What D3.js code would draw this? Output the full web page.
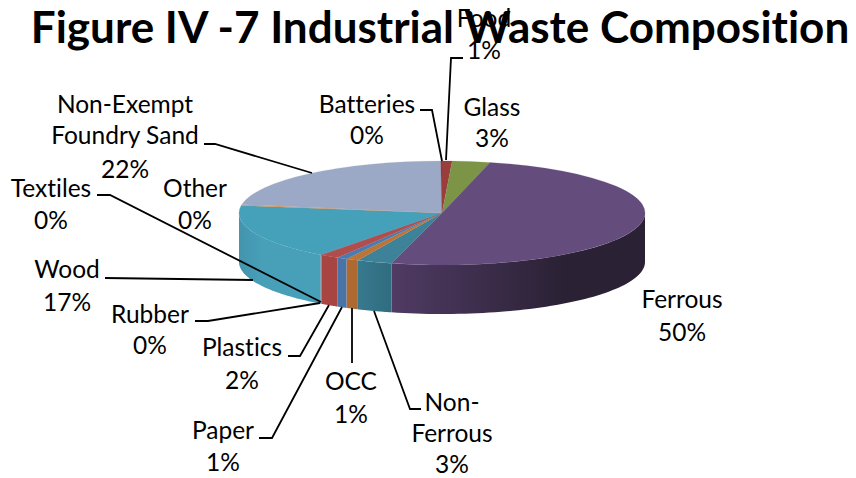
<!DOCTYPE html>
<html>
<head>
<meta charset="utf-8">
<script src="https://cdn.jsdelivr.net/npm/d3@7/dist/d3.min.js"></script>
<style>html,body{margin:0;padding:0;background:#fff}svg{display:block}text{font-family:Lato,"Open Sans",sans-serif;fill:#000;font-variant-ligatures:none;font-kerning:normal}</style>
</head>
<body>
<script>
const titleText = "Figure IV -7 Industrial Waste Composition";
const categories = ["Food","Glass","Ferrous","Non-Ferrous","OCC","Paper","Plastics","Rubber","Textiles","Wood","Other","Non-Exempt Foundry Sand","Batteries"];
const values = [0.8,3.0,50.2,2.8,1.0,0.8,1.5,0.05,0.05,17.1,0.3,22.3,0.1];
const topColors = ["#9a3e3c","#7c9446","#644c7c","#3d8299","#bd7535","#4a7cb4","#b04e4e","#a94d50","#a04e55","#45a0ba","#d9934f","#9ca9c6","#8f3a38"];
const wallFrom = ["#9a3e3c","#7c9446","#503b64","#38798e","#b06a30","#4874a8","#a84543","#a84543","#a84543","#4394ad","#d9934f","#9ca9c6","#8f3a38"];
const wallTo   = ["#9a3e3c","#7c9446","#2a2134","#2f6c80","#ad6930","#4874a8","#a84543","#a84543","#a84543","#489fb8","#d9934f","#9ca9c6","#8f3a38"];

const labelNames = [["Food"],["Glass"],["Ferrous"],["Non-","Ferrous"],["OCC"],["Paper"],["Plastics"],["Rubber"],["Textiles"],["Wood"],["Other"],["Non-Exempt","Foundry Sand"],["Batteries"]];
const labelX = [484,492,682,452,351,223,242,150,51,67,195,125,367];
const labelY = [[27,59],[116,147],[308,341],[411,442,473],[390,423],[439,471],[356,389],[323,354],[197,229],[278,311],[197,229],[113,144,178],[113,144]];
const leaders = [
 [[446,160],[451,58],[463,58]],
 [[420,110],[432,110],[442,161]],
 [[204,144],[215,144],[312,173]],
 [[97,195],[110,195],[321,302]],
 [[105,278],[253,280]],
 [[195,321],[208,321],[320,303]],
 [[288,356],[300,356],[329,305]],
 [[259,438],[272,438],[342,307]],
 [[352,363],[352,308]],
 [[421,409],[410,409],[374,311]]
];

const W=856,H=478,cx=442,cy=213,rx=203,ry=52,depth=49;
const svg=d3.select("body").append("svg").attr("width",W).attr("height",H);
const defs=svg.append("defs");
const arcs=d3.pie().sort(null).value(d=>d)(values);

const ex=a=>cx+rx*Math.sin(a), ey=a=>cy-ry*Math.cos(a);
const pathLine=d3.line();
const lo=Math.PI/2, hi=3*Math.PI/2;

// side walls: only the front half of the rim is visible
arcs.forEach((d,i)=>{
  const a0=Math.max(d.startAngle,lo), a1=Math.min(d.endAngle,hi);
  if(a1<=a0) return;
  const xs=[ex(a0),ex(a1)];
  const id="wall"+i;
  const isFerrous=categories[i]==="Ferrous";
  const isWood=categories[i]==="Wood";
  const g=defs.append("linearGradient").attr("id",id).attr("gradientUnits","userSpaceOnUse")
    .attr("x1",d3.min(xs)).attr("x2",isFerrous?565:isWood?262:d3.max(xs)).attr("y1",0).attr("y2",0);
  g.append("stop").attr("offset",0).attr("stop-color",wallFrom[i]);
  g.append("stop").attr("offset",1).attr("stop-color",wallTo[i]);
  const samples=d3.range(0,61).map(k=>a0+(a1-a0)*k/60);
  const pts=samples.map(a=>[ex(a),ey(a)]).concat(samples.slice().reverse().map(a=>[ex(a),ey(a)+depth]));
  svg.append("path").attr("d",pathLine(pts)+"Z").attr("fill",`url(#${id})`);
});

// top surface
const arcGen=d3.arc().innerRadius(0).outerRadius(rx);
const topFace=svg.append("g").attr("transform",`translate(${cx},${cy}) scale(1,${ry/rx})`);
topFace.selectAll("path").data(arcs).join("path").attr("d",arcGen)
  .attr("fill",(d,i)=>topColors[i]).attr("stroke",(d,i)=>topColors[i]).attr("stroke-width",0.3);

// leaders
svg.append("g").selectAll("path").data(leaders).join("path")
  .attr("d",d=>pathLine(d)).attr("fill","none").attr("stroke","#000").attr("stroke-width",1.8);

// labels: name lines plus the rounded percentage
const lab=svg.append("g").attr("font-size",24.5).attr("text-anchor","middle");
values.forEach((v,i)=>{
  labelNames[i].concat(Math.round(v)+"%").forEach((t,k)=>{
    lab.append("text").attr("x",labelX[i]).attr("y",labelY[i][k]).text(t);
  });
});

// title
svg.append("text").attr("x",440).attr("y",43).attr("text-anchor","middle")
  .attr("font-size",44).attr("font-weight",700).text(titleText);
</script>
</body>
</html>
